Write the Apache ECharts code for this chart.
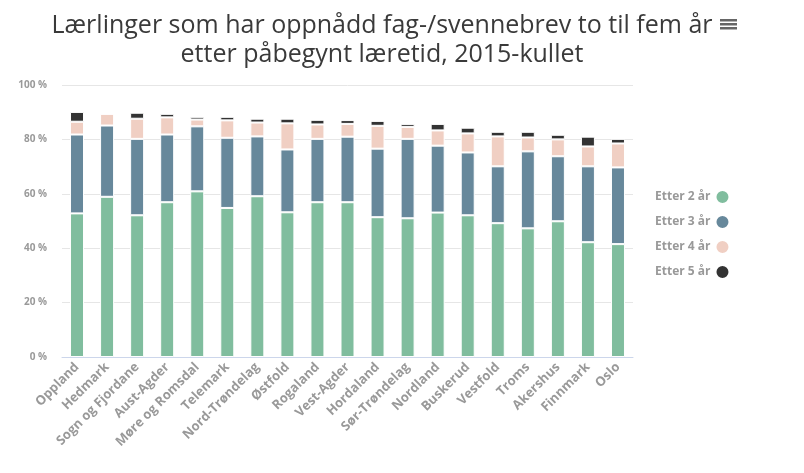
<!DOCTYPE html>
<html>
<head>
<meta charset="utf-8">
<script src="https://cdn.jsdelivr.net/npm/echarts@6/dist/echarts.min.js"></script>
<style>
  html, body { margin: 0; padding: 0; background: #fff; }
  #main { width: 804px; height: 473px; }
</style>
</head>
<body>
<div id="main"></div>
<script>
// fylker, sortert etter total andel
var fylker = ['Oppland', 'Hedmark', 'Sogn og Fjordane', 'Aust-Agder', 'Møre og Romsdal', 'Telemark',
  'Nord-Trøndelag', 'Østfold', 'Rogaland', 'Vest-Agder', 'Hordaland', 'Sør-Trøndelag', 'Nordland',
  'Buskerud', 'Vestfold', 'Troms', 'Akershus', 'Finnmark', 'Oslo'];

// andel (prosentpoeng) per år etter start
var etter2 = [52.8, 58.9, 52.1, 56.9, 60.9, 54.8, 59.1, 53.2, 56.9, 56.9, 51.4, 51.0, 53.1, 52.1, 49.2, 47.3, 49.9, 42.2, 41.5];
var etter3 = [29.0, 26.2, 28.1, 24.9, 23.9, 25.8, 22.0, 23.1, 23.3, 24.1, 25.2, 29.2, 24.6, 23.1, 20.9, 28.3, 23.9, 27.9, 28.2];
var etter4 = [4.7, 4.3, 7.4, 6.3, 2.5, 6.4, 5.1, 9.6, 5.3, 4.7, 8.4, 4.4, 5.6, 7.0, 11.0, 5.1, 6.2, 7.3, 8.8];
var etter5 = [3.6, 0, 2.2, 1.3, 1.0, 1.3, 1.4, 1.7, 1.7, 1.4, 1.8, 1.1, 2.4, 2.1, 1.7, 2.1, 1.7, 3.6, 1.7];

var serieNavn = ['Etter 2 år', 'Etter 3 år', 'Etter 4 år', 'Etter 5 år'];
var farger = ['#80bd9e', '#67889b', '#f0cfc3', '#333333'];

var chart = echarts.init(document.getElementById('main'));

function lagSerie(navn, data, farge) {
  return {
    name: navn,
    type: 'bar',
    stack: 'total',
    barWidth: 14,
    data: data,
    itemStyle: {
      color: farge,
      borderColor: '#ffffff',
      borderWidth: 1
    },
    emphasis: { disabled: true }
  };
}

var option = {
  animation: false,
  textStyle: { fontFamily: 'Open Sans' },
  title: {
    text: 'Lærlinger som har oppnådd fag-/svennebrev to til fem år\netter påbegynt læretid, 2015-kullet',
    left: 377,
    top: 6,
    textAlign: 'center',
    textStyle: {
      color: '#3a3a3a',
      fontSize: 25,
      fontWeight: 'normal',
      fontFamily: 'Open Sans',
      lineHeight: 29
    }
  },
  color: farger,
  legend: {
    orient: 'vertical',
    left: 650,
    top: 184,
    align: 'right',
    icon: 'circle',
    itemWidth: 14,
    itemHeight: 14,
    itemGap: 9,
    data: serieNavn,
    textStyle: {
      color: '#999999',
      fontSize: 12,
      fontWeight: 'bold'
    }
  },
  grid: {
    left: 62,
    right: 171,
    top: 85,
    bottom: 116
  },
  xAxis: {
    type: 'category',
    data: fylker,
    axisLine: { lineStyle: { color: '#ccd6eb' } },
    axisTick: { show: false },
    axisLabel: {
      interval: 0,
      rotate: 45,
      color: '#999999',
      fontSize: 13,
      fontWeight: 'bold',
      margin: 8
    }
  },
  yAxis: {
    type: 'value',
    min: 0,
    max: 100,
    interval: 20,
    axisLabel: {
      formatter: '{value} %',
      color: '#999999',
      fontSize: 10,
      fontWeight: 'bold',
      margin: 15
    },
    splitLine: { lineStyle: { color: '#e6e6e6' } }
  },
  graphic: [{
    type: 'group',
    left: 720,
    top: 19,
    children: [
      { type: 'rect', shape: { x: 0, y: 0, width: 17, height: 2.5 }, style: { fill: '#666666' } },
      { type: 'rect', shape: { x: 0, y: 4, width: 17, height: 2.5 }, style: { fill: '#666666' } },
      { type: 'rect', shape: { x: 0, y: 8, width: 17, height: 2.5 }, style: { fill: '#666666' } }
    ]
  }],
  series: [
    lagSerie(serieNavn[0], etter2, farger[0]),
    lagSerie(serieNavn[1], etter3, farger[1]),
    lagSerie(serieNavn[2], etter4, farger[2]),
    lagSerie(serieNavn[3], etter5, farger[3])
  ]
};

chart.setOption(option);
</script>
</body>
</html>
